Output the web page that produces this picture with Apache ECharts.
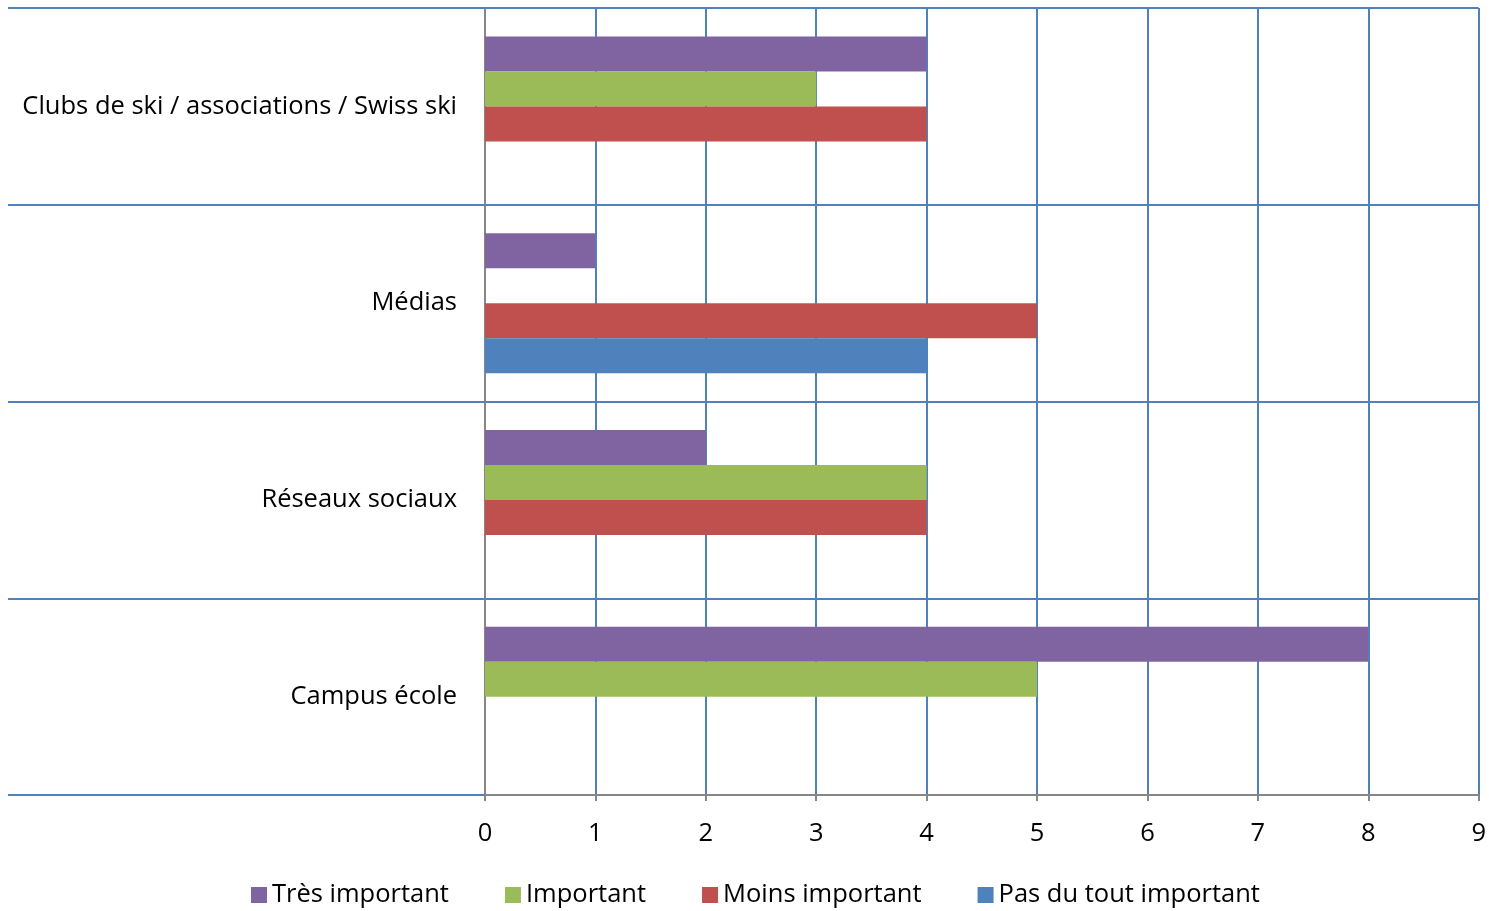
<!DOCTYPE html>
<html>
<head>
<meta charset="utf-8">
<script src="https://cdn.jsdelivr.net/npm/echarts@6/dist/echarts.min.js"></script>
<style>html,body{margin:0;padding:0;background:#fff}#c{width:1489px;height:911px}</style>
</head>
<body>
<div id="c"></div>
<script>
const categories = ["Clubs de ski / associations / Swiss ski", "Médias", "Réseaux sociaux", "Campus école"];
const seriesNames = ["Très important", "Important", "Moins important", "Pas du tout important"];
const tresImportant = [4, 1, 2, 8];
const important = [3, 0, 4, 5];
const moinsImportant = [4, 5, 4, 0];
const pasDuToutImportant = [0, 4, 0, 0];
const xTicks = [0, 1, 2, 3, 4, 5, 6, 7, 8, 9];

const colors = ["#8064A2", "#9BBB59", "#C0504D", "#4F81BD"];
const values = [tresImportant, important, moinsImportant, pasDuToutImportant];
const font = "'Open Sans', sans-serif";
const fs = 25.5;

const chart = echarts.init(document.getElementById('c'));
chart.setOption({
  animation: false,
  color: colors,
  grid: { left: 485, right: 9, top: 8, bottom: 116, containLabel: false },
  legend: {
    top: 877, left: 246,
    itemWidth: 16, itemHeight: 16, itemGap: 56,
    icon: 'rect',
    textStyle: { fontFamily: font, fontSize: fs, color: '#000' },
    data: seriesNames
  },
  xAxis: {
    type: 'value', min: xTicks[0], max: xTicks[xTicks.length - 1], interval: 1,
    axisLine: { show: true, lineStyle: { color: '#868686', width: 2 } },
    axisTick: { show: true, length: 6, lineStyle: { color: '#868686', width: 2 } },
    axisLabel: { fontFamily: font, fontSize: fs, color: '#000', margin: 26 },
    splitLine: { show: true, lineStyle: { color: '#4F81BD', width: 2 } }
  },
  yAxis: {
    type: 'category', inverse: true, data: categories,
    axisLine: { show: true, lineStyle: { color: '#868686', width: 2 } },
    axisTick: { show: true, length: 477, lineStyle: { color: '#4F81BD', width: 2 } },
    axisLabel: { fontFamily: font, fontSize: fs, color: '#000', margin: 28, padding: [4, 0, 0, 0] },
    splitLine: { show: true, lineStyle: { color: '#4F81BD', width: 2 } }
  },
  series: seriesNames.map((n, i) => ({
    name: n, type: 'bar', data: values[i], barWidth: 35, barGap: '0%',
    itemStyle: { color: colors[i] }
  }))
});
</script>
</body>
</html>
